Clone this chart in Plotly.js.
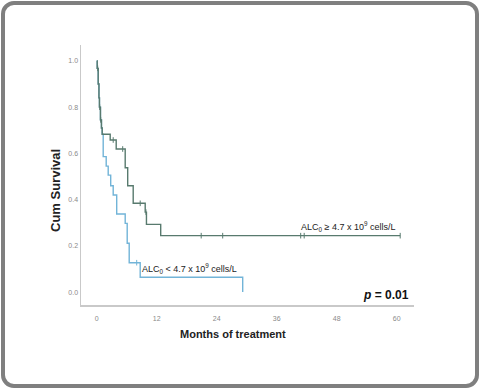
<!DOCTYPE html>
<html><head><meta charset="utf-8">
<script src="https://cdn.plot.ly/plotly-3.0.1.min.js"></script>
<style>
html,body{margin:0;padding:0;background:#fff;}
#wrap{position:relative;width:480px;height:389px;}
#chart{position:absolute;left:0;top:0;width:480px;height:389px;}
#frame{position:absolute;left:1px;top:1px;width:470px;height:379px;border:4px solid #7f7f7f;border-radius:13px;pointer-events:none;}
</style></head>
<body><div id="wrap"><div id="chart"></div><div id="frame"></div></div>
<script>
// Group ALC0 >= 4.7 (dark)
const highTime = [0, 0.1, 0.3, 0.45, 0.55, 0.75, 0.95, 1.1, 2.7, 3.9, 5.7, 6.2, 7.3, 9.7, 9.95, 12.8, 60.7];
const highSurv = [1.0, 0.968, 0.90, 0.84, 0.80, 0.745, 0.71, 0.683, 0.658, 0.619, 0.538, 0.46, 0.384, 0.346, 0.293, 0.244, 0.244];
const highCensTime = [0.2, 0.6, 0.8, 3.3, 5.2, 8.7, 9.85, 20.9, 25.2, 40.8, 41.5, 60.7];
const highCensSurv = [0.968, 0.80, 0.745, 0.658, 0.619, 0.384, 0.346, 0.244, 0.244, 0.244, 0.244, 0.244];
// Group ALC0 < 4.7 (light)
const lowTime = [0, 0.1, 0.3, 0.45, 0.55, 0.75, 0.95, 1.1, 1.3, 1.9, 2.3, 2.8, 3.3, 4.0, 5.7, 6.1, 6.5, 8.7, 29.2];
const lowSurv = [1.0, 0.968, 0.90, 0.84, 0.80, 0.745, 0.71, 0.683, 0.586, 0.545, 0.506, 0.46, 0.42, 0.338, 0.297, 0.211, 0.127, 0.064, 0.0];
const lowCensTime = [8.0];
const lowCensSurv = [0.127];
const xTicks = [0, 12, 24, 36, 48, 60];
const yTicks = [0.0, 0.2, 0.4, 0.6, 0.8, 1.0];
const yTickText = ['0.0', '0.2', '0.4', '0.6', '0.8', '1.0'];

const darkCol = '#587a6e';
const lightCol = '#72b4d8';
const FONT = 'Liberation Sans, Arial, sans-serif';

const traces = [
  {x: lowTime, y: lowSurv, mode: 'lines', line: {shape: 'hv', color: lightCol, width: 1.4}, hoverinfo: 'skip'},
  {x: lowCensTime, y: lowCensSurv, mode: 'markers', marker: {symbol: 'line-ns', size: 4, line: {color: lightCol, width: 1}}, hoverinfo: 'skip'},
  {x: highTime, y: highSurv, mode: 'lines', line: {shape: 'hv', color: darkCol, width: 1.4}, hoverinfo: 'skip'},
  {x: highCensTime, y: highCensSurv, mode: 'markers', marker: {symbol: 'line-ns', size: 4, line: {color: darkCol, width: 1}}, hoverinfo: 'skip'}
];

const layout = {
  width: 480, height: 389,
  margin: {l: 81, r: 66, t: 45, b: 84},
  paper_bgcolor: 'rgba(0,0,0,0)', plot_bgcolor: 'rgba(0,0,0,0)',
  showlegend: false,
  font: {family: FONT, color: '#222'},
  xaxis: {
    range: [-3.14, 63.46], tickvals: xTicks, ticktext: xTicks.map(String),
    showgrid: false, zeroline: false, showline: true, linecolor: '#c9c9c9', linewidth: 1.5,
    ticks: '', tickfont: {size: 7, color: '#8a8a8a'}, ticklabelstandoff: 6
  },
  yaxis: {
    range: [-0.056, 1.069], tickvals: yTicks, ticktext: yTickText,
    showgrid: false, zeroline: false, showline: true, linecolor: '#c9c9c9', linewidth: 1.5,
    ticks: '', tickfont: {size: 7, color: '#8a8a8a'}
  },
  annotations: [
    {x: 233, y: 334, xref: 'paper', yref: 'paper', text: '<b>Months of treatment</b>', showarrow: false, xanchor: 'center', yanchor: 'middle', font: {size: 11, color: '#222', family: FONT}},
    {x: 55, y: 191, xref: 'paper', yref: 'paper', text: '<b>Cum Survival</b>', showarrow: false, textangle: -90, xanchor: 'center', yanchor: 'middle', font: {size: 13, color: '#222', family: FONT}},
    {x: 60.2, y: 0.244, xref: 'x', yref: 'y', text: 'ALC<sub>0</sub> ≥ 4.7 x 10<sup>9</sup> cells/L', showarrow: false, xanchor: 'right', yanchor: 'bottom', yshift: 1, font: {size: 9, color: '#222'}},
    {x: 8.7, y: 0.064, xref: 'x', yref: 'y', text: 'ALC<sub>0</sub> < 4.7 x 10<sup>9</sup> cells/L', showarrow: false, xanchor: 'left', yanchor: 'bottom', font: {size: 9, color: '#222'}},
    {x: 62.9, y: 0.0, xref: 'x', yref: 'y', text: '<b><i>p</i> = 0.01</b>', showarrow: false, xanchor: 'right', yanchor: 'middle', yshift: -3, font: {size: 12, color: '#111'}}
  ]
};
// convert pixel positions of title annotations to paper coordinates
const pw = 480 - 81 - 66, ph = 389 - 45 - 84;
layout.annotations[0].x = (layout.annotations[0].x - 81) / pw;
layout.annotations[0].y = (389 - 84 - layout.annotations[0].y) / ph;
layout.annotations[1].x = (layout.annotations[1].x - 81) / pw;
layout.annotations[1].y = (389 - 84 - layout.annotations[1].y) / ph;
Plotly.newPlot('chart', traces, layout, {displayModeBar: false, staticPlot: true});
</script></body></html>
